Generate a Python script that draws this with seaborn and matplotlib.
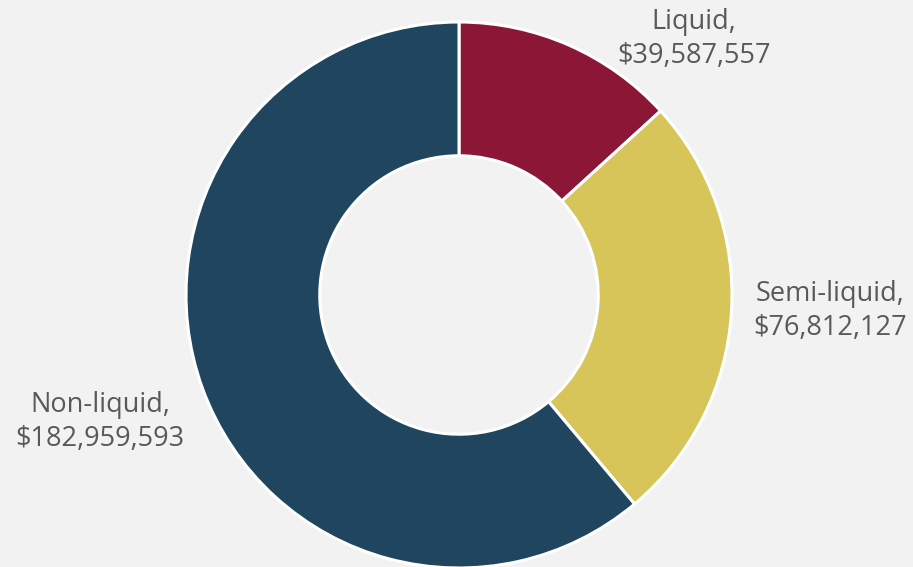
import matplotlib
matplotlib.use("Agg")
import matplotlib.pyplot as plt
import seaborn as sns

categories = ["Liquid", "Semi-liquid", "Non-liquid"]
values = [39587557, 76812127, 182959593]
colors = ["#8B1636", "#D8C55A", "#20465F"]

sns.set_theme(style="white")
plt.rcParams['font.family'] = ['Open Sans', 'DejaVu Sans']

W, H = 913, 567
fig = plt.figure(figsize=(W / 100, H / 100), dpi=100, facecolor="#F2F2F2")
ax = fig.add_axes([0, 0, 1, 1])
ax.set_facecolor("#F2F2F2")

cx, cy, R = 459, H - 295, 273
ax.pie(values, colors=colors, startangle=90, counterclock=False,
       center=(cx, cy), radius=R,
       wedgeprops=dict(width=R * 0.49, edgecolor="white", linewidth=2.2))

ax.set_xlim(0, W)
ax.set_ylim(0, H)
ax.set_aspect("equal")
ax.axis("off")

def fmt(v):
    return f"${v:,.0f}"

label_pos = [(694, 39), (830, 311), (100, 422)]
for cat, v, (x, y) in zip(categories, values, label_pos):
    ax.text(x, H - y, f"{cat},\n{fmt(v)}", ha="center", va="center",
            fontsize=19.5, color="#595959", linespacing=1.3)

fig.savefig("out.png", dpi=100, facecolor=fig.get_facecolor())
